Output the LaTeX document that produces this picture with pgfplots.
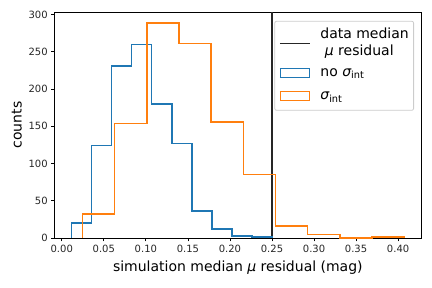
\documentclass[border=0pt]{standalone}
\usepackage{pgfplots}
\pgfplotsset{compat=1.18}
\usepackage{fontspec}
\setmainfont{DejaVu Sans}
\definecolor{mplblue}{HTML}{1F77B4}
\definecolor{mplorange}{HTML}{FF7F0E}
\newcommand\legpatch[1]{\raisebox{-0.5pt}{\setlength\fboxrule{1pt}\setlength\fboxsep{0pt}\fcolorbox{#1}{white}{\rule{0pt}{8pt}\rule{28pt}{0pt}}}}
\newcommand\legcontents{%
  \begin{tabular}{@{}l@{\hspace{10.5pt}}l@{}}
  \raisebox{2.7pt}{\textcolor{black!85}{\rule{30pt}{1.6pt}}} &
  \begin{tabular}{@{}l@{}}data median\\\hspace{0.32em}{\itshape μ} residual\end{tabular}\\[12.5pt]
  \legpatch{mplblue} & no {\itshape σ}\textsubscript{int}\\[6.6pt]
  \legpatch{mplorange} & {\itshape σ}\textsubscript{int}
  \end{tabular}}
\begin{document}
\begin{tikzpicture}
\useasboundingbox (0,0) rectangle (432pt,288pt);
\begin{axis}[
  at={(54.7pt,50pt)}, anchor=south west,
  scale only axis, width=366.3pt, height=226pt,
  xmin=-0.0084, xmax=0.4272, ymin=0, ymax=303.45,
  axis line style={line width=0.8pt, black},
  tick style={line width=0.8pt, black},
  tick align=outside, major tick length=3.5pt,
  xtick={0,0.05,...,0.401}, ytick={0,50,...,300},
  xtick pos=bottom, ytick pos=left,
  /pgf/number format/assume math mode=true,
  xticklabel style={/pgf/number format/.cd, fixed, fixed zerofill, precision=2},
  yticklabel style={/pgf/number format/.cd, fixed, precision=0},
  tick label style={font=\fontsize{10}{12}\selectfont, text=black!85},
  label style={font=\fontsize{14}{16.8}\selectfont},
  xlabel={simulation median {\itshape μ} residual (mag)},
  xlabel style={yshift=-1pt},
  ylabel={counts},
  scaled x ticks=false,
  clip=false,
]
\addplot[black!85, line width=2pt]
  coordinates {(0.2505,0) (0.2505,303.45)};
\addplot[mplblue, line width=1.5pt, line join=miter]
  coordinates {
  (0.0114,0) (0.0114,20) (0.0353,20) (0.0353,124) (0.0592,124) (0.0592,231)
  (0.0831,231) (0.0831,260) (0.1070,260) (0.1070,180) (0.1309,180) (0.1309,127)
  (0.1548,127) (0.1548,36) (0.1787,36) (0.1787,12) (0.2026,12) (0.2026,3)
  (0.2265,3) (0.2265,1) (0.2504,1) (0.2504,0)};
\addplot[mplorange, line width=1.5pt, line join=miter]
  coordinates {
  (0.0245,0) (0.0245,32) (0.0628,32) (0.0628,154) (0.1011,154) (0.1011,289)
  (0.1394,289) (0.1394,261) (0.1777,261) (0.1777,156) (0.2160,156) (0.2160,85)
  (0.2542,85) (0.2542,16) (0.2925,16) (0.2925,5) (0.3308,5) (0.3308,0)
  (0.3691,0) (0.3691,1) (0.4074,1) (0.4074,0)};
\node[anchor=north east, draw=black!20, line width=0.8pt, fill=white, fill opacity=0.8, draw opacity=1,
  rounded corners=2pt, inner xsep=5pt, inner ysep=5.5pt,
  font=\fontsize{14}{16.8}\selectfont] at (rel axis cs:0.981,0.961) {\phantom{\legcontents}};
\node[anchor=north east, inner xsep=5pt, inner ysep=5.5pt,
  font=\fontsize{14}{16.8}\selectfont] at (rel axis cs:0.981,0.961) {\legcontents};
\end{axis}
\end{tikzpicture}
\end{document}
